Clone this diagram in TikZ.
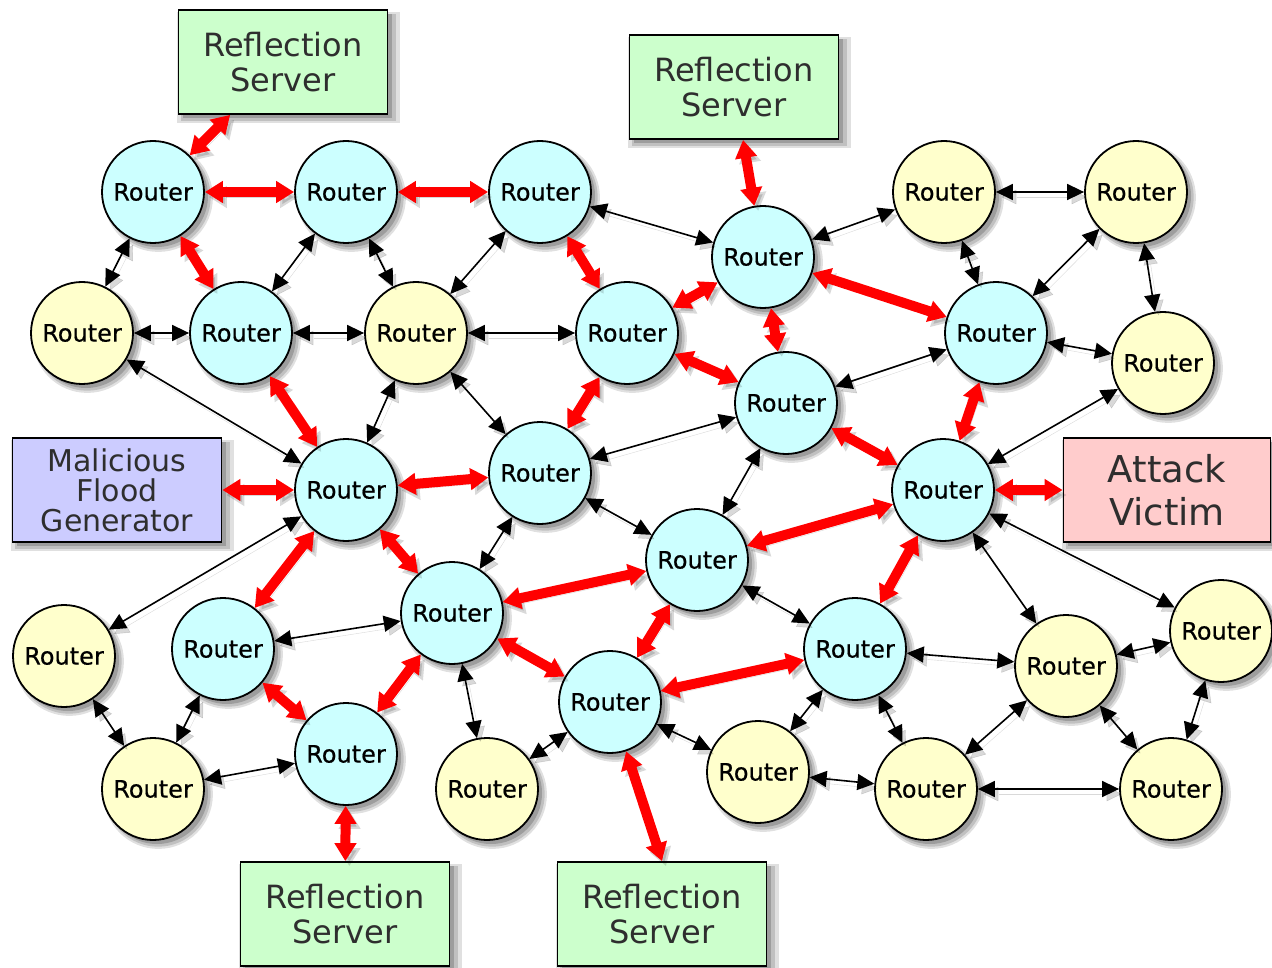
\documentclass[tikz,border=0pt]{standalone}
\usepackage{fontspec}
\setmainfont{DejaVu Sans}
\newfontfamily\routerfont[FakeBold=0.5]{DejaVu Sans}
\usetikzlibrary{arrows.meta,shadows}
\definecolor{cyanR}{HTML}{CCFFFF}
\definecolor{yelR}{HTML}{FFFFCC}
\definecolor{greenB}{HTML}{CCFFCC}
\definecolor{lavB}{HTML}{CCCCFF}
\definecolor{pinkB}{HTML}{FFCCCC}
\definecolor{txtgray}{HTML}{2E2E2E}
\definecolor{floodred}{HTML}{FF0000}
\begin{document}
\begin{tikzpicture}[x=1pt,y=-1pt,
  nshadow/.style={
    drop shadow={shadow xshift=5pt,shadow yshift=-5pt,opacity=0.12,fill=black,shadow scale=1.07},
    drop shadow={shadow xshift=5pt,shadow yshift=-5pt,opacity=0.14,fill=black,shadow scale=1.03},
    drop shadow={shadow xshift=4pt,shadow yshift=-4pt,opacity=0.18,fill=black}},
  router/.style={circle,draw=black,line width=1.8pt,minimum size=102pt,inner sep=0pt,
    font=\routerfont\fontsize{24}{24}\selectfont,nshadow},
  rc/.style={router,fill=cyanR},
  ry/.style={router,fill=yelR},
  boxn/.style={rectangle,draw=black,line width=1.8pt,minimum width=209pt,minimum height=104pt,
    inner sep=0pt,align=center,text=txtgray,nshadow},
  rsbox/.style={boxn,fill=greenB,font=\fontsize{32}{35}\selectfont},
  lshadow/.style={preaction={draw=black,opacity=0.15,transform canvas={shift={(4pt,-5pt)}}}},
  flood/.style={draw=floodred,line width=10pt,lshadow,
    {Triangle[length=18pt,width=21pt]}-{Triangle[length=18pt,width=21pt]}},
  link/.style={draw=black,line width=1.6pt,lshadow,
    {Triangle[length=17pt,width=16pt]}-{Triangle[length=17pt,width=16pt]}}
]
\useasboundingbox (0,0) rectangle (1272,968);
\fill[white] (0,0) rectangle (1272,968);

% boxes
\node[rsbox] (RS1) at (283,62) {Reflection\\Server};
\node[rsbox] (RS2) at (734,87) {Reflection\\Server};
\node[rsbox] (RS3) at (345,914) {Reflection\\Server};
\node[rsbox] (RS4) at (662,914) {Reflection\\Server};
\node[boxn,fill=lavB,font=\fontsize{30}{30}\selectfont] (MFG) at (117,490) {Malicious\\Flood\\Generator};
\node[boxn,fill=pinkB,minimum width=207pt,font=\fontsize{37}{43}\selectfont] (AV) at (1167,490) {Attack\\Victim};

% routers
\node[rc] (R1) at (153,192) {Router};
\node[rc] (R2) at (346,192) {Router};
\node[rc] (R3) at (540,192) {Router};
\node[rc] (R6) at (763,257) {Router};
\node[ry] (R4) at (944,192) {Router};
\node[ry] (R5) at (1136,192) {Router};
\node[ry] (Y1) at (82,333) {Router};
\node[rc] (R7) at (241,333) {Router};
\node[ry] (Y2) at (416,333) {Router};
\node[rc] (R8) at (627,333) {Router};
\node[rc] (R9) at (996,333) {Router};
\node[ry] (Y3) at (1163,363) {Router};
\node[rc] (R10) at (786,403) {Router};
\node[rc] (R11) at (346,490) {Router};
\node[rc] (R12) at (540,473) {Router};
\node[rc] (R13) at (943,490) {Router};
\node[rc] (R14) at (697,560) {Router};
\node[rc] (R15) at (452,613) {Router};
\node[ry] (Y4) at (64,656) {Router};
\node[rc] (R16) at (223,649) {Router};
\node[rc] (R17) at (855,649) {Router};
\node[ry] (Y5) at (1066,666) {Router};
\node[ry] (Y6) at (1221,631) {Router};
\node[rc] (R18) at (610,702) {Router};
\node[rc] (R19) at (346,754) {Router};
\node[ry] (Y7) at (153,789) {Router};
\node[ry] (Y8) at (487,789) {Router};
\node[ry] (Y9) at (758,772) {Router};
\node[ry] (Y10) at (926,789) {Router};
\node[ry] (Y11) at (1171,789) {Router};

% flood (red) links
\draw[flood] (RS1) -- (R1);
\draw[flood] (R1) -- (R2);
\draw[flood] (R2) -- (R3);
\draw[flood] (R1) -- (R7);
\draw[flood] (R3) -- (R8);
\draw[flood] (RS2) -- (R6);
\draw[flood] (R6) -- (R8);
\draw[flood] (R6) -- (R9);
\draw[flood] (R6) -- (R10);
\draw[flood] (R8) -- (R10);
\draw[flood] (R8) -- (R12);
\draw[flood] (R7) -- (R11);
\draw[flood] (MFG) -- (R11);
\draw[flood] (R11) -- (R12);
\draw[flood] (R11) -- (R16);
\draw[flood] (R11) -- (R15);
\draw[flood] (R10) -- (R13);
\draw[flood] (R9) -- (R13);
\draw[flood] (R13) -- (AV);
\draw[flood] (R13) -- (R14);
\draw[flood] (R13) -- (R17);
\draw[flood] (R14) -- (R15);
\draw[flood] (R14) -- (R18);
\draw[flood] (R15) -- (R19);
\draw[flood] (R16) -- (R19);
\draw[flood] (R15) -- (R18);
\draw[flood] (R17) -- (R18);
\draw[flood] (R18) -- (RS4.north);
\draw[flood] (R19) -- (RS3);

% normal (black) links
\draw[link] (R1) -- (Y1);
\draw[link] (Y1) -- (R7);
\draw[link] (R7) -- (R2);
\draw[link] (R2) -- (Y2);
\draw[link] (R7) -- (Y2);
\draw[link] (Y2) -- (R3);
\draw[link] (Y2) -- (R8);
\draw[link] (R3) -- (R6);
\draw[link] (R6) -- (R4);
\draw[link] (R4) -- (R5);
\draw[link] (R4) -- (R9);
\draw[link] (R5) -- (R9);
\draw[link] (R5) -- (Y3);
\draw[link] (R9) -- (Y3);
\draw[link] (R9) -- (R10);
\draw[link] (Y3) -- (R13);
\draw[link] (Y1) -- (R11);
\draw[link] (Y2) -- (R11);
\draw[link] (Y2) -- (R12);
\draw[link] (R12) -- (R10);
\draw[link] (R10) -- (R14);
\draw[link] (R12) -- (R14);
\draw[link] (R12) -- (R15);
\draw[link] (R11) -- (Y4);
\draw[link] (R16) -- (R15);
\draw[link] (R16) -- (Y7);
\draw[link] (Y4) -- (Y7);
\draw[link] (Y7) -- (R19);
\draw[link] (R15) -- (Y8);
\draw[link] (Y8) -- (R18);
\draw[link] (R18) -- (Y9);
\draw[link] (Y9) -- (R17);
\draw[link] (R14) -- (R17);
\draw[link] (R17) -- (Y5);
\draw[link] (R17) -- (Y10);
\draw[link] (Y9) -- (Y10);
\draw[link] (R13) -- (Y5);
\draw[link] (R13) -- (Y6);
\draw[link] (Y5) -- (Y6);
\draw[link] (Y5) -- (Y10);
\draw[link] (Y6) -- (Y11);
\draw[link] (Y5) -- (Y11);
\draw[link] (Y10) -- (Y11);
\end{tikzpicture}
\end{document}
